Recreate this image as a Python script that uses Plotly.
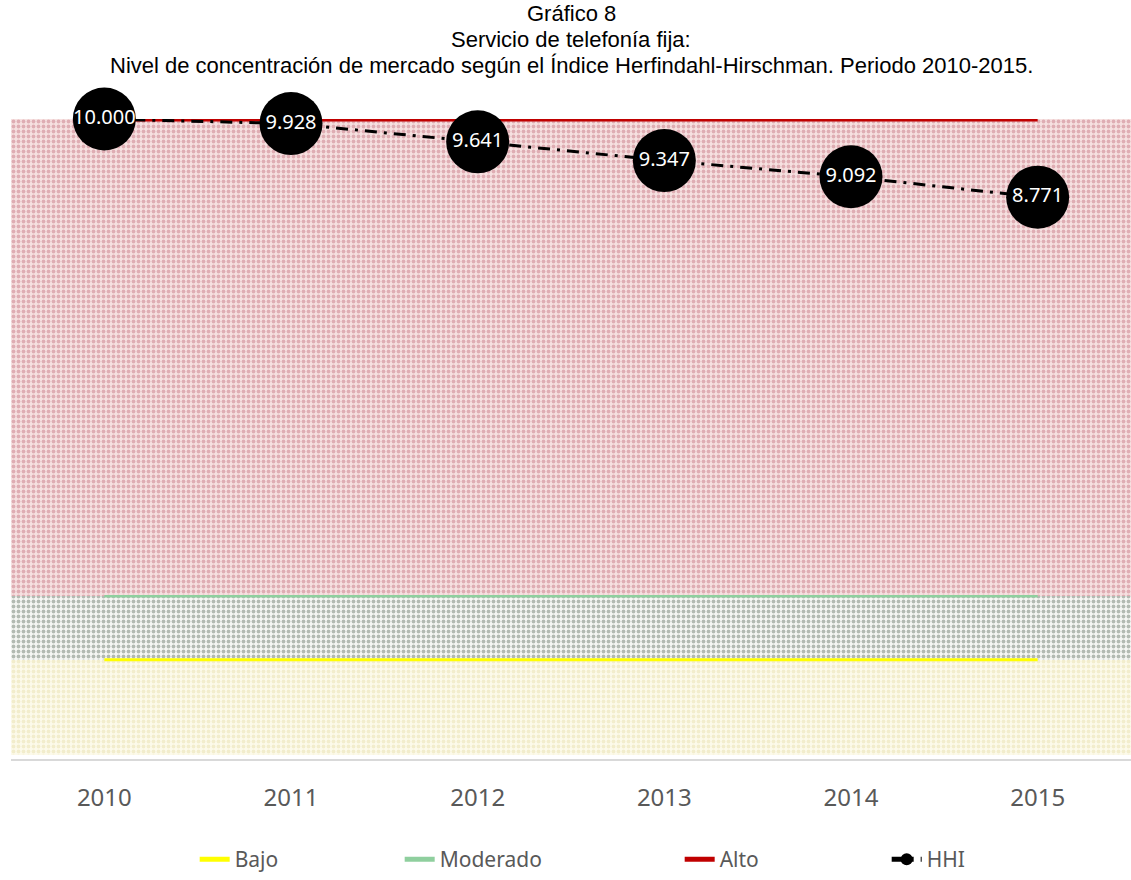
import plotly.graph_objects as go

years = ["2010", "2011", "2012", "2013", "2014", "2015"]
hhi = [10000, 9928, 9641, 9347, 9092, 8771]
hhi_labels = ["10.000", "9.928", "9.641", "9.347", "9.092", "8.771"]
bajo = [1500] * 6
moderado = [2500] * 6
alto = [10000] * 6
band_bajo = [1500] * 6
band_moderado = [1000] * 6
band_alto = [7500] * 6
title_lines = [
    "Gráfico 8",
    "Servicio de telefonía fija:",
    "Nivel de concentración de mercado según el Índice Herfindahl-Hirschman. Periodo 2010-2015.",
]

fig = go.Figure()

# Background bands (stacked bars with dotted pattern)
bands = [
    (band_bajo, "#fcfaea", "#e8dfae"),
    (band_moderado, "#f6f7f4", "#6f7d70"),
    (band_alto, "#f6e1e1", "#c77a86"),
]
for vals, bg, fg in bands:
    fig.add_trace(go.Bar(
        x=years, y=vals, width=1, showlegend=False, hoverinfo="skip",
        marker=dict(color=bg, line=dict(width=0),
                    pattern=dict(shape=".", bgcolor=bg, fgcolor=fg, size=5, solidity=0.45)),
    ))

fig.add_trace(go.Scatter(x=years, y=bajo, mode="lines", name="Bajo", legendwidth=160,
                         line=dict(color="#ffff00", width=3)))
fig.add_trace(go.Scatter(x=years, y=moderado, mode="lines", name="Moderado", legendwidth=235,
                         line=dict(color="#8fcf9e", width=2.5)))
fig.add_trace(go.Scatter(x=years, y=alto, mode="lines", name="Alto", legendwidth=162,
                         line=dict(color="#c00000", width=5)))
fig.add_trace(go.Scatter(x=years, y=hhi, mode="lines+markers+text", name="HHI",
                         line=dict(color="#000000", width=3, dash="12px,7px,3px,7px"),
                         marker=dict(color="#000000", size=63),
                         text=hhi_labels, textposition="middle center",
                         textfont=dict(color="#ffffff", size=20, family="Noto Sans"),
                         cliponaxis=False))

plot_top, plot_bottom = 119, 761
plot_h = plot_bottom - plot_top
for line, yc in zip(title_lines, [13, 39, 65]):
    fig.add_annotation(text=line, xref="paper", yref="paper", x=0.5, xanchor="center",
                       y=(plot_bottom - yc) / plot_h, yanchor="middle", showarrow=False,
                       font=dict(family="Liberation Sans, Arial", size=22, color="#000000"))

fig.update_layout(
    width=1131, height=880,
    barmode="stack", bargap=0,
    paper_bgcolor="white", plot_bgcolor="white",
    margin=dict(l=11, r=0, t=plot_top, b=880 - plot_bottom),
    xaxis=dict(type="category", range=[-0.5, 5.5], showgrid=False, zeroline=False,
               showline=True, linecolor="#d9d9d9", linewidth=2,
               tickfont=dict(family="Noto Sans", size=24, color="#595959"),
               ticks="", ticklabelstandoff=16),
    yaxis=dict(range=[-60, 10000], visible=False, showgrid=False, zeroline=False),
    legend=dict(orientation="h", x=0.164, xanchor="left", y=-0.125, yanchor="top",
                font=dict(family="Noto Sans", size=21, color="#595959"),
                itemsizing="constant", traceorder="normal"),
)

fig.write_html("out.html", config={"displayModeBar": False},
               post_script="document.body.style.margin='0px';document.body.style.overflow='hidden';")
